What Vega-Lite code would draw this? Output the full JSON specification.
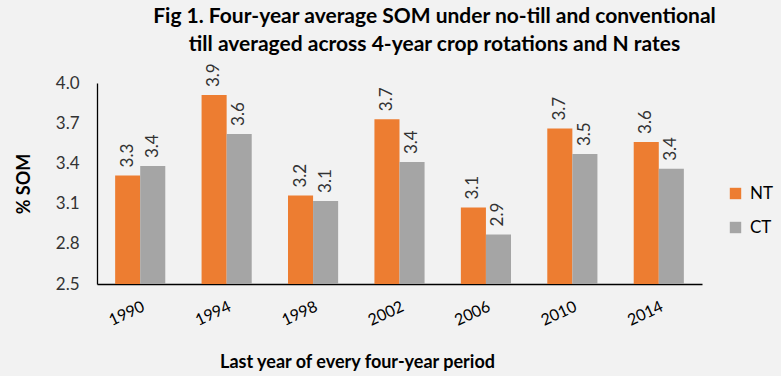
{
  "$schema": "https://vega.github.io/schema/vega-lite/v6.json",
  "width": 605,
  "height": 201,
  "autosize": {"type": "none"},
  "padding": {"left": 97, "top": 83, "right": 79, "bottom": 92},
  "background": "#f2f2f2",
  "title": {
    "text": ["Fig 1. Four-year average SOM under no-till and conventional", "till averaged across 4-year crop rotations and N rates"],
    "font": "Lato",
    "fontSize": 21,
    "fontWeight": "bold",
    "color": "#000000",
    "anchor": "middle",
    "dx": 35,
    "lineHeight": 28,
    "offset": 8
  },
  "data": {
    "values": [
      {"year": "1990", "tillage": "NT", "som": 3.31},
      {"year": "1990", "tillage": "CT", "som": 3.38},
      {"year": "1994", "tillage": "NT", "som": 3.91},
      {"year": "1994", "tillage": "CT", "som": 3.62},
      {"year": "1998", "tillage": "NT", "som": 3.16},
      {"year": "1998", "tillage": "CT", "som": 3.12},
      {"year": "2002", "tillage": "NT", "som": 3.73},
      {"year": "2002", "tillage": "CT", "som": 3.41},
      {"year": "2006", "tillage": "NT", "som": 3.07},
      {"year": "2006", "tillage": "CT", "som": 2.87},
      {"year": "2010", "tillage": "NT", "som": 3.66},
      {"year": "2010", "tillage": "CT", "som": 3.47},
      {"year": "2014", "tillage": "NT", "som": 3.56},
      {"year": "2014", "tillage": "CT", "som": 3.36}
    ]
  },
  "encoding": {
    "x": {
      "field": "year",
      "type": "nominal",
      "scale": {"paddingInner": 0.42, "paddingOuter": 0.21},
      "axis": {
        "labelAngle": -25,
        "labelAlign": "right",
        "labelBaseline": "top",
        "labelPadding": 14,
        "labelFont": "Lato",
        "labelFontSize": 16,
        "labelColor": "#000000",
        "ticks": false,
        "domainColor": "#000000",
        "domainWidth": 1.3,
        "title": "Last year of every four-year period",
        "titleFont": "Lato",
        "titleFontSize": 18,
        "titleFontWeight": "bold",
        "titleColor": "#000000",
        "titleX": 260,
        "titleY": 78,
        "titleBaseline": "middle",
        "titleAnchor": "start",
        "titleAlign": "center"
      }
    },
    "xOffset": {"field": "tillage", "type": "nominal", "sort": ["NT", "CT"], "scale": {"paddingInner": 0}},
    "y": {
      "field": "som",
      "type": "quantitative",
      "scale": {"domain": [2.5, 4.0], "zero": false, "nice": false},
      "axis": {
        "values": [2.5, 2.8, 3.1, 3.4, 3.7, 4.0],
        "format": ".1f",
        "grid": false,
        "ticks": false,
        "labelPadding": 18,
        "labelFont": "Lato",
        "labelFontSize": 17,
        "labelColor": "#333333",
        "domainColor": "#000000",
        "domainWidth": 1.3,
        "title": "% SOM",
        "titleFont": "Lato",
        "titleFontSize": 18,
        "titleFontWeight": "bold",
        "titleColor": "#000000",
        "titlePadding": 22
      }
    }
  },
  "layer": [
    {
      "mark": {"type": "bar"},
      "encoding": {
        "y2": {"datum": 2.5},
        "color": {
          "field": "tillage",
          "type": "nominal",
          "sort": ["NT", "CT"],
          "scale": {"domain": ["NT", "CT"], "range": ["#ED7D31", "#A5A5A5"]},
          "legend": {
            "title": null,
            "orient": "none",
            "legendX": 630,
            "legendY": 102,
            "symbolType": "square",
            "symbolSize": 130,
            "symbolStrokeWidth": 0,
            "labelFont": "Lato",
            "labelFontSize": 17,
            "labelColor": "#000000",
            "rowPadding": 16,
            "labelOffset": 6
          }
        }
      }
    },
    {
      "mark": {"type": "text", "angle": -90, "align": "left", "baseline": "middle", "dx": 8, "font": "Lato", "fontSize": 17, "color": "#333333"},
      "encoding": {
        "text": {"field": "som", "type": "quantitative", "format": ".1f"}
      }
    }
  ],
  "config": {"view": {"stroke": null}}
}
